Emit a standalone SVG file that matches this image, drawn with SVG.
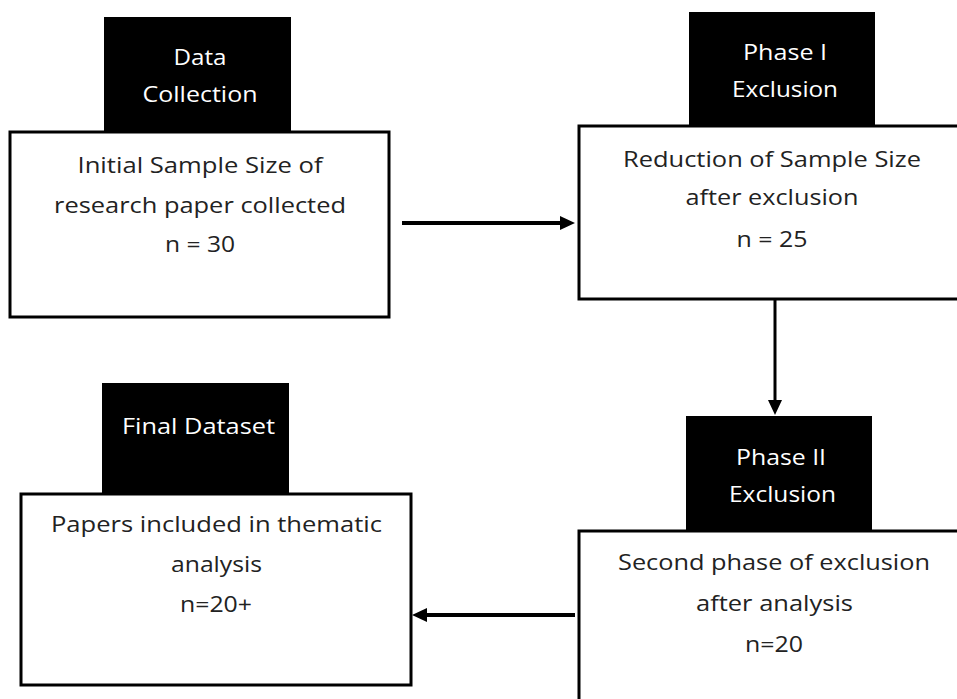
<svg xmlns="http://www.w3.org/2000/svg" width="957" height="699" viewBox="0 0 957 699">
<defs>
<style>
.box{fill:#fff;stroke:#000;stroke-width:3}
.hdr{fill:#000}
.t{font-family:"Open Sans","Liberation Sans",sans-serif;font-size:22px;fill:#222;text-anchor:middle}
.w{font-family:"Open Sans","Liberation Sans",sans-serif;font-size:22px;fill:#fff;text-anchor:middle}
.c{stroke:#000;fill:none}
</style>
<marker id="ah" viewBox="0 0 15 14" markerWidth="15" markerHeight="14" refX="5" refY="7" orient="auto" markerUnits="userSpaceOnUse">
<path d="M0,0 L15,7 L0,14 z" fill="#000"/>
</marker>
</defs>
<rect width="957" height="699" fill="#fff"/>
<g id="node-data-collection">
<rect class="box" x="10" y="132" width="379" height="185"/>
<rect class="hdr" x="104" y="17" width="187" height="115"/>
<text class="w" x="200" y="65" textLength="53" lengthAdjust="spacingAndGlyphs">Data</text>
<text class="w" x="200" y="102" textLength="115" lengthAdjust="spacingAndGlyphs">Collection</text>
<text class="t" x="200" y="173" textLength="245" lengthAdjust="spacingAndGlyphs">Initial Sample Size of</text>
<text class="t" x="200" y="213" textLength="292" lengthAdjust="spacingAndGlyphs">research paper collected</text>
<text class="t" x="200" y="252" textLength="70" lengthAdjust="spacingAndGlyphs">n = 30</text>
</g>
<g id="node-phase1">
<rect class="box" x="579" y="126" width="400" height="173"/>
<rect class="hdr" x="689" y="12" width="186" height="114"/>
<text class="w" x="785" y="60" textLength="84" lengthAdjust="spacingAndGlyphs">Phase I</text>
<text class="w" x="785" y="97" textLength="106" lengthAdjust="spacingAndGlyphs">Exclusion</text>
<text class="t" x="772" y="167" textLength="298" lengthAdjust="spacingAndGlyphs">Reduction of Sample Size</text>
<text class="t" x="772" y="205" textLength="173" lengthAdjust="spacingAndGlyphs">after exclusion</text>
<text class="t" x="772" y="247" textLength="71" lengthAdjust="spacingAndGlyphs">n = 25</text>
</g>
<g id="node-final">
<rect class="box" x="21" y="494" width="390" height="191"/>
<rect class="hdr" x="102" y="383" width="187" height="111"/>
<text class="w" x="198.5" y="434" textLength="153" lengthAdjust="spacingAndGlyphs">Final Dataset</text>
<text class="t" x="216.5" y="532" textLength="331" lengthAdjust="spacingAndGlyphs">Papers included in thematic</text>
<text class="t" x="216.5" y="572" textLength="91" lengthAdjust="spacingAndGlyphs">analysis</text>
<text class="t" x="216" y="612" textLength="72" lengthAdjust="spacingAndGlyphs">n=20+</text>
</g>
<g id="node-phase2">
<rect class="box" x="579" y="531" width="400" height="200"/>
<rect class="hdr" x="686" y="416" width="186" height="115"/>
<text class="w" x="781" y="465" textLength="90" lengthAdjust="spacingAndGlyphs">Phase II</text>
<text class="w" x="782.5" y="502" textLength="107" lengthAdjust="spacingAndGlyphs">Exclusion</text>
<text class="t" x="774" y="570" textLength="312" lengthAdjust="spacingAndGlyphs">Second phase of exclusion</text>
<text class="t" x="774.5" y="611" textLength="157" lengthAdjust="spacingAndGlyphs">after analysis</text>
<text class="t" x="774" y="652" textLength="58" lengthAdjust="spacingAndGlyphs">n=20</text>
</g>
<g id="connectors">
<line class="c" x1="402" y1="223" x2="565" y2="223" stroke-width="4" marker-end="url(#ah)"/>
<line class="c" x1="775" y1="300" x2="775" y2="405" stroke-width="3" marker-end="url(#ah)"/>
<line class="c" x1="575" y1="615" x2="422" y2="615" stroke-width="4" marker-end="url(#ah)"/>
</g>
</svg>
